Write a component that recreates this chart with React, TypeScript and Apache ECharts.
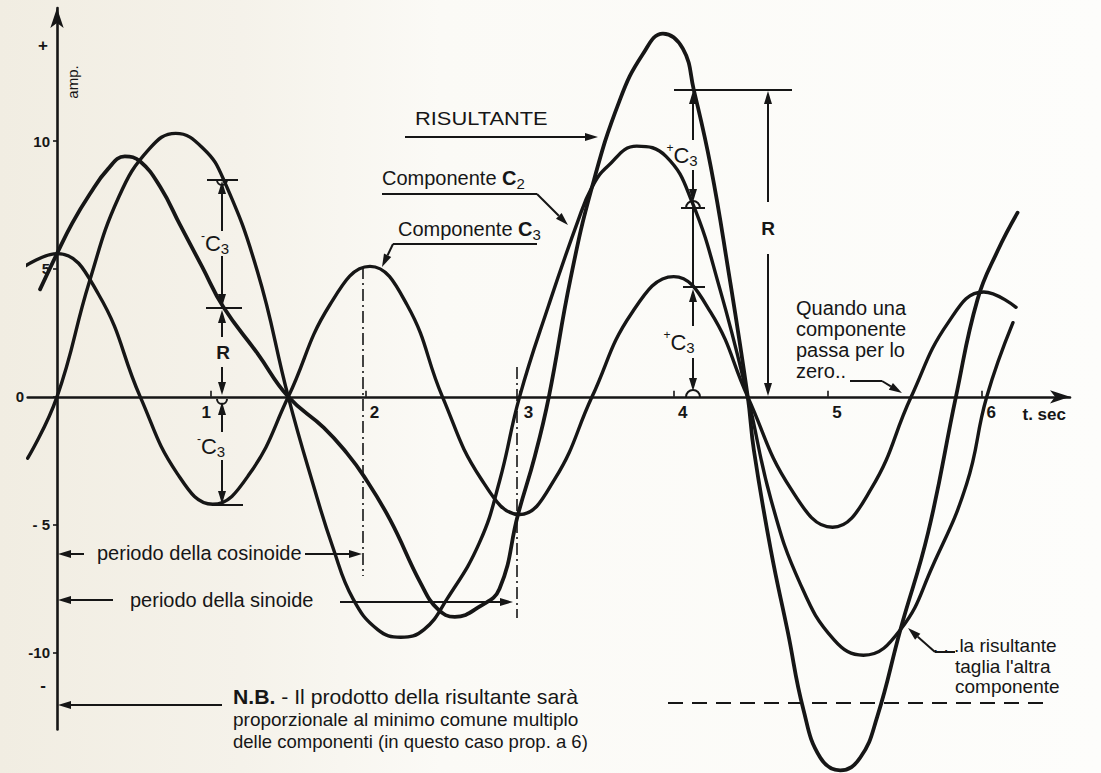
import React, { useEffect, useRef } from "react";
import * as echarts from "echarts";

// ---- data (t in seconds, amplitude in axis units) ----
const c3T = [-0.21, 0, 0.27, 0.54, 0.78, 1.01, 1.25, 1.5, 1.77, 2.03, 2.27, 2.5, 2.75, 3.0, 3.23, 3.47, 3.73, 4.0, 4.24, 4.48, 4.76, 5.03, 5.28, 5.54, 5.78, 6.01, 6.22];
const c3V = [5.1, 5.6, 4.0, 0, -3.0, -4.2, -3.0, 0, 3.6, 5.1, 3.6, 0, -3.2, -4.6, -3.2, 0, 3.3, 4.7, 3.3, 0, -3.6, -5.1, -3.6, 0, 2.9, 4.1, 3.5];

const c2T = [-0.19, 0, 0.21, 0.4, 0.6, 0.77, 0.95, 1.08, 1.3, 1.5, 1.66, 1.79, 1.92, 2.08, 2.23, 2.38, 2.53, 2.74, 2.87, 3.0, 3.19, 3.38, 3.47, 3.57, 3.76, 3.95, 4.12, 4.3, 4.48, 4.63, 4.82, 5.04, 5.23, 5.47, 5.68, 5.9, 6.03, 6.2];
const c2V = [-2.4, 0, 4.5, 7.8, 9.7, 10.3, 9.7, 8.5, 4.9, 0, -3.4, -5.9, -7.9, -9.1, -9.4, -9.1, -7.9, -5.7, -3.3, 0, 3.6, 6.9, 8.2, 9.0, 9.8, 9.4, 7.6, 4.2, 0, -4.0, -7.3, -9.5, -10.1, -9.1, -6.6, -3.4, 0, 2.9];

const rT = [-0.11, 0, 0.1, 0.21, 0.33, 0.44, 0.54, 0.67, 0.8, 0.94, 1.08, 1.3, 1.5, 1.73, 1.88, 1.99, 2.16, 2.36, 2.47, 2.58, 2.74, 2.87, 2.99, 3.1, 3.19, 3.33, 3.47, 3.65, 3.8, 3.93, 4.06, 4.13, 4.24, 4.35, 4.48, 4.52, 4.63, 4.74, 4.84, 4.95, 5.08, 5.21, 5.32, 5.47, 5.65, 5.83, 5.97, 6.1, 6.23];
const rV = [4.2, 5.6, 6.8, 7.9, 8.9, 9.4, 9.2, 8.2, 6.7, 5.1, 3.5, 1.7, 0, -1.2, -2.2, -3.1, -4.8, -7.3, -8.3, -8.6, -8.2, -7.5, -4.6, -2.3, 0, 4.6, 8.2, 11.6, 13.4, 14.2, 13.6, 12.0, 9.0, 5.1, 0, -2.1, -6.0, -9.2, -12.2, -14.1, -14.6, -14.1, -12.5, -9.1, -5.3, 0, 3.8, 5.7, 7.2];

const xTickVals = [1, 2, 3, 4, 5, 6];
const xTickText: Record<string, string> = { "1": "{l|1}", "2": "{r|2}", "3": "{r|3}", "4": "{r|4}", "5": "{r|5}", "6": "{r|6}" };
const yTickVals = [-10, -5, 0, 5, 10];
const yTickText: Record<string, string> = { "-10": "-10", "-5": "- 5", "0": "{z|0}", "5": "5", "10": "10" };

const INK = "#161616";
const FONT = '"Liberation Sans", Arial, Helvetica, sans-serif';

const zip = (t: number[], v: number[]) => t.map((x, i) => [x, v[i]]);

function arrow(x1: number, y1: number, x2: number, y2: number, hl = 13, hw = 4, lw = 2): any[] {
  const a = Math.atan2(y2 - y1, x2 - x1);
  const bx = x2 - hl * Math.cos(a);
  const by = y2 - hl * Math.sin(a);
  const px = -Math.sin(a) * hw;
  const py = Math.cos(a) * hw;
  return [
    { type: "line", shape: { x1, y1, x2: bx, y2: by }, style: { stroke: INK, lineWidth: lw } },
    { type: "polygon", shape: { points: [[x2, y2], [bx + px, by + py], [bx - px, by - py]] }, style: { fill: INK } },
  ];
}
function seg(x1: number, y1: number, x2: number, y2: number, lw = 2, dash?: number[]): any {
  return { type: "line", shape: { x1, y1, x2, y2 }, style: { stroke: INK, lineWidth: lw, lineDash: dash } };
}
function txt(text: string, x: number, y: number, size = 20, extra: any = {}, el: any = {}): any {
  return {
    type: "text", x, y, ...el,
    style: { text, fill: INK, fontSize: size, fontFamily: FONT, align: "left", verticalAlign: "middle", ...extra },
  };
}
const cRich = {
  s: { fontSize: 12, lineHeight: 12, verticalAlign: "top", fontFamily: FONT, fill: INK },
  c: { fontSize: 22, lineHeight: 26, fontFamily: FONT, fill: INK },
  cb: { fontSize: 20, lineHeight: 26, fontFamily: FONT, fill: INK, fontWeight: "bold" },
  n: { fontSize: 20, lineHeight: 26, fontFamily: FONT, fill: INK },
  b: { fontSize: 15, lineHeight: 15, verticalAlign: "bottom", fontFamily: FONT, fill: INK },
};
function cLabel(sign: string, x: number, y: number): any {
  return { type: "text", x, y, style: { text: `{s|${sign}}{c|C}{b|3}`, rich: cRich, align: "center", verticalAlign: "middle" } };
}
function cup(cx: number, cy: number, r: number, up: boolean): any {
  return {
    type: "arc",
    shape: { cx, cy, r, startAngle: up ? Math.PI : 0, endAngle: up ? Math.PI * 2 : Math.PI, clockwise: true },
    style: { stroke: INK, lineWidth: 2, fill: null },
  };
}

function buildGraphic(): any[] {
  const g: any[] = [];
  // dash-dot period guides
  g.push(seg(363, 267, 363, 576, 1.6, [12, 4, 2, 4]));
  g.push(seg(517, 367, 517, 618, 1.6, [12, 4, 2, 4]));
  // period arrows
  g.push(...arrow(84, 554, 58, 554));
  g.push(txt("periodo della cosinoide", 97, 553, 20));
  g.push(...arrow(305, 554, 362, 554));
  g.push(...arrow(113, 600, 58, 600));
  g.push(txt("periodo della sinoide", 130, 600, 20));
  g.push(...arrow(340, 602, 513, 602));
  // N.B.
  g.push(...arrow(222, 705, 58, 705));
  g.push(txt("{b|N.B.} - Il prodotto della risultante sarà", 233, 697, 20, { rich: { b: { fontWeight: "bold", fontSize: 20, fontFamily: FONT, fill: INK } } }, { scaleX: 1.06 }));
  g.push(txt("proporzionale al minimo comune multiplo", 233, 719, 19));
  g.push(txt("delle componenti (in questo caso prop. a 6)", 233, 741, 18.5));
  // RISULTANTE
  g.push(txt("RISULTANTE", 415, 118, 19, {}, { scaleX: 1.15 }));
  g.push(...arrow(405, 137, 598, 137));
  // Componente C2
  g.push(txt("{n|Componente }{cb|C}{b|2}", 382, 178, 20, { rich: cRich }));
  g.push(seg(382, 194, 537, 194));
  g.push(...arrow(537, 194, 568, 225));
  // Componente C3
  g.push(txt("{n|Componente }{cb|C}{b|3}", 398, 229, 20, { rich: cRich }));
  g.push(seg(537, 244, 393, 244));
  g.push(...arrow(393, 244, 382, 267));
  // left construction at t ~ 1
  g.push(seg(207, 180, 238, 180));
  g.push(cup(222, 180, 5, false));
  g.push(...arrow(222, 231, 222, 181));
  g.push(cLabel("-", 215, 243));
  g.push(...arrow(222, 256, 222, 307));
  g.push(seg(206, 308, 242, 308));
  g.push(...arrow(222, 337, 222, 310));
  g.push(txt("R", 223, 352, 19, { align: "center", fontWeight: "bold" }));
  g.push(...arrow(222, 367, 222, 395));
  g.push(cup(222, 399, 5, false));
  g.push(...arrow(222, 432, 222, 402));
  g.push(cLabel("-", 211, 446));
  g.push(...arrow(222, 460, 222, 504));
  g.push(seg(212, 505, 243, 505));
  // right construction at t ~ 4.1
  g.push(seg(674, 90, 792, 90));
  g.push(...arrow(693, 140, 693, 91));
  g.push(cLabel("+", 682, 155));
  g.push(...arrow(693, 170, 693, 202));
  g.push(cup(693, 208, 7, true));
  g.push(seg(681, 208, 705, 208));
  g.push(seg(693, 208, 693, 287));
  g.push(seg(683, 287, 705, 287));
  g.push(...arrow(693, 326, 693, 289));
  g.push(cLabel("+", 679, 342));
  g.push(...arrow(693, 358, 693, 391));
  g.push(cup(693, 397, 7, true));
  // R dimension
  g.push(...arrow(768, 202, 768, 91));
  g.push(txt("R", 768, 228, 19, { align: "center", fontWeight: "bold" }));
  g.push(...arrow(768, 254, 768, 396));
  // Quando una componente ...
  g.push(txt("Quando una", 796, 308, 20));
  g.push(txt("componente", 796, 329, 20));
  g.push(txt("passa per lo", 796, 350, 20));
  g.push(txt("zero..", 796, 371, 20));
  g.push(seg(850, 381, 882, 381));
  g.push(...arrow(882, 381, 902, 393));
  // ...la risultante taglia l'altra componente
  g.push(txt(". . .la risultante", 933, 645, 19));
  g.push(txt("taglia l'altra", 955, 666, 19));
  g.push(txt("componente", 955, 686, 19));
  g.push(seg(955, 652, 935, 652));
  g.push(...arrow(935, 652, 908, 628));
  // dashed level line
  g.push(seg(668, 703, 1043, 703, 2, [15, 9]));
  // +/- marks and axis name
  g.push(txt("+", 43, 45, 17, { align: "center", fontWeight: "bold" }));
  g.push(txt("-", 43, 685, 17, { align: "center", fontWeight: "bold" }));
  g.push(txt("amp.", 72, 82, 15, { align: "center" }, { rotation: Math.PI / 2 }));
  return g;
}

// grid geometry: t = 0 at x = 57, amplitude 0 at y = 397
const GRID_LEFT = 27.7;
const GRID_RIGHT = 31;
const GRID_TOP = 8;
const GRID_BOTTOM = 43.6;

export default function App() {
  const ref = useRef<HTMLDivElement>(null);
  useEffect(() => {
    if (!ref.current) return;
    const chart = echarts.init(ref.current, null, { renderer: "svg" });
    const curve = (name: string, data: number[][], w: number) => ({
      name, type: "line", data, smooth: 0.45, showSymbol: false, clip: false, silent: true,
      lineStyle: { color: INK, width: w, cap: "round" }, z: 3,
    });
    const xMin = -0.19, xMax = 6.57, yMin = -13, yMax = 15.2;
    const plotW = 1101 - GRID_LEFT - GRID_RIGHT;
    const plotH = 773 - GRID_TOP - GRID_BOTTOM;
    const yZeroPx = GRID_TOP + (yMax / (yMax - yMin)) * plotH;
    const xZeroPx = GRID_LEFT + (-xMin / (xMax - xMin)) * plotW;
    const lblRich = (extra: any) => ({ fontSize: 17, fontWeight: "bold", fontFamily: FONT, color: INK, ...extra });
    chart.setOption({
      animation: false,
      backgroundColor: "transparent",
      grid: { left: GRID_LEFT, right: GRID_RIGHT, top: GRID_TOP, bottom: GRID_BOTTOM, containLabel: false, outerBoundsMode: "none" },
      xAxis: {
        type: "value", min: xMin, max: xMax, position: "bottom",
        offset: -(773 - GRID_BOTTOM - yZeroPx),
        axisLine: { onZero: false, symbol: ["none", "arrow"], symbolSize: [10, 20], lineStyle: { color: INK, width: 2.6 } },
        axisTick: { customValues: xTickVals, inside: true, length: 6, lineStyle: { color: INK, width: 1.6 } },
        axisLabel: {
          customValues: xTickVals, formatter: (v: number) => xTickText[String(v)] ?? String(v), align: "center", margin: 7,
          color: INK, fontSize: 17, fontWeight: "bold", fontFamily: FONT,
          rich: { l: lblRich({ padding: [0, 10, 0, 0] }), r: lblRich({ padding: [0, 0, 0, 18] }) },
        },
        splitLine: { show: false },
        name: "t. sec", nameLocation: "end", nameGap: -4,
        nameTextStyle: { color: INK, fontSize: 17, fontWeight: "bold", fontFamily: FONT, align: "right", verticalAlign: "top", padding: [9, 0, 0, 0] },
      },
      yAxis: {
        type: "value", min: yMin, max: yMax, position: "left",
        offset: -(xZeroPx - GRID_LEFT),
        axisLine: { onZero: false, symbol: ["none", "arrow"], symbolSize: [10, 20], lineStyle: { color: INK, width: 2.6 } },
        axisTick: { customValues: yTickVals, length: 4, lineStyle: { color: INK, width: 1.6 } },
        axisLabel: {
          customValues: yTickVals, formatter: (v: number) => yTickText[String(v)] ?? String(v), margin: 7,
          color: INK, fontSize: 15, fontFamily: FONT, fontWeight: "bold",
          rich: { z: { fontSize: 15, fontWeight: "bold", fontFamily: FONT, color: INK, padding: [0, 26, 0, 0] } },
        },
        splitLine: { show: false },
      },
      graphic: buildGraphic(),
      series: [
        curve("Componente C3", zip(c3T, c3V), 3.4),
        curve("Componente C2", zip(c2T, c2V), 3.4),
        curve("Risultante", zip(rT, rV), 3.8),
      ],
    });
    return () => chart.dispose();
  }, []);
  return (
    <div
      ref={ref}
      style={{
        position: "fixed", left: 0, top: 0, width: 1101, height: 773,
        background: "linear-gradient(90deg, #f1ede2 0%, #f5f2ea 22%, #fbfaf6 40%, #fdfdfb 100%)",
      }}
    />
  );
}
